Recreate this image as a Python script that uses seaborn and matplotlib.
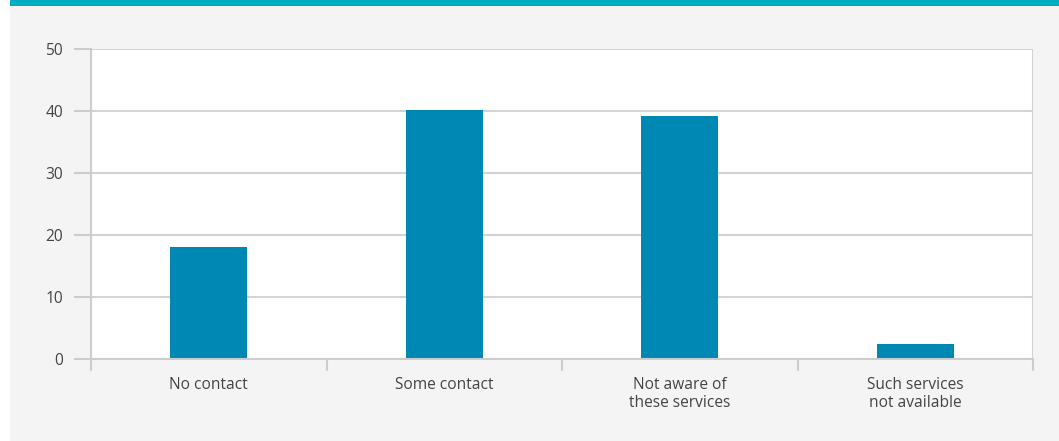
import matplotlib
matplotlib.use("Agg")
import matplotlib.pyplot as plt
from matplotlib.patches import Rectangle
import seaborn as sns
import pandas as pd

categories = ["No contact", "Some contact", "Not aware of\nthese services", "Such services\nnot available"]
values = [18.0, 40.2, 39.2, 2.5]
yticks = [0, 10, 20, 30, 40, 50]

sns.set_theme(style="white")
plt.rcParams["font.family"] = ["Open Sans", "DejaVu Sans"]

W, H = 1059, 441
fig = plt.figure(figsize=(W / 100, H / 100), dpi=100)
fig.patch.set_facecolor("white")

# panel background and top accent band
fig.patches.append(Rectangle((10 / W, 0), 1 - 10 / W, 1 - 6 / H, transform=fig.transFigure,
                             facecolor="#f4f4f4", edgecolor="none", zorder=-2))
fig.patches.append(Rectangle((10 / W, 1 - 6 / H), 1 - 10 / W, 6 / H, transform=fig.transFigure,
                             facecolor="#00acc1", edgecolor="none", zorder=-1))

left, right, top, bottom = 91, 1033, 49, 359
ax = fig.add_axes([left / W, 1 - bottom / H, (right - left) / W, (bottom - top) / H])
ax.set_facecolor("white")

df = pd.DataFrame({"category": categories, "value": values})
sns.barplot(data=df, x="category", y="value", color="#0088b5", width=0.325,
            saturation=1, linewidth=0, edgecolor="none", ax=ax, zorder=3)

ax.set_xlim(-0.5, len(categories) - 0.5)
ax.set_ylim(0, 50)
ax.set_yticks(yticks)
ax.set_xlabel("")
ax.set_ylabel("")
ax.grid(axis="y", color="#d2d2d2", linewidth=1.5, zorder=0)
ax.grid(axis="x", visible=False)

for s in ["top", "right"]:
    ax.spines[s].set_visible(False)
ax.spines["left"].set_color("#cccccc")
ax.spines["left"].set_linewidth(1.5)
ax.spines["bottom"].set_color("#cccccc")
ax.spines["bottom"].set_linewidth(1.5)
ax.spines["left"].set_zorder(4)
ax.spines["bottom"].set_zorder(4)

# right border of plot area
ax.axvline(len(categories) - 0.5, color="#d2d2d2", linewidth=1.5, zorder=1)

ax.tick_params(axis="y", length=12, width=1.5, color="#cccccc", labelsize=11.2,
               labelcolor="#444444", pad=8, left=True)
ax.tick_params(axis="x", length=0, labelsize=11.2, labelcolor="#444444", pad=13)

# category separator ticks below the axis
for xb in [i - 0.5 for i in range(len(categories) + 1)]:
    ax.plot([xb, xb], [0, -1.8], color="#cccccc", linewidth=1.5, clip_on=False, zorder=4)

fig.savefig("out.png", dpi=100)
